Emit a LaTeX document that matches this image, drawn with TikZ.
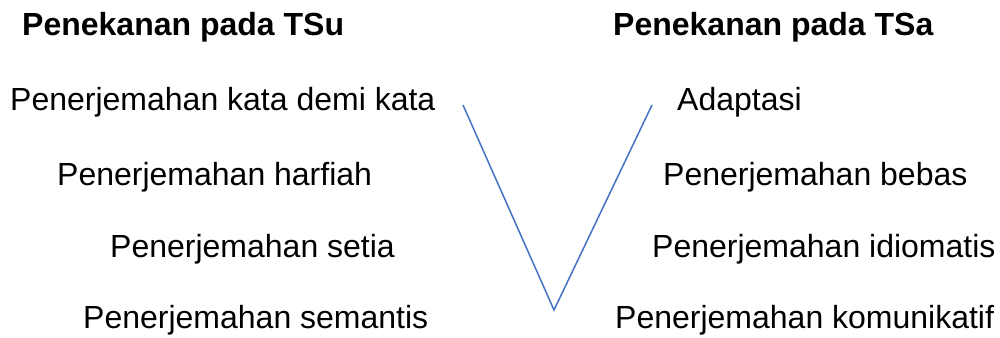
\documentclass[tikz,border=0pt]{standalone}
\usepackage{fontspec}
\setmainfont{Liberation Sans}
\definecolor{vblue}{HTML}{4472C4}
\begin{document}
\begin{tikzpicture}[x=1pt,y=-1pt,
  lbl/.style={anchor=base west,inner sep=0pt,font=\fontsize{32}{38}\selectfont},
  ttl/.style={lbl,font=\fontsize{32}{38}\selectfont\bfseries},
  vline/.style={draw=vblue,line width=1.5pt,line join=miter}]
\useasboundingbox[fill=white] (0,0) rectangle (1000,337);
\node[ttl] (tsu) at (22,36) {Penekanan pada TSu};
\node[ttl] (tsa) at (613,36) {Penekanan pada TSa};
\node[lbl] (l1) at (10,110) {Penerjemahan kata demi kata};
\node[lbl] (l2) at (57,185) {Penerjemahan harfiah};
\node[lbl] (l3) at (110,257) {Penerjemahan setia};
\node[lbl] (l4) at (83,328) {Penerjemahan semantis};
\node[lbl] (r1) at (677,110) {Adaptasi};
\node[lbl] (r2) at (663,185) {Penerjemahan bebas};
\node[lbl] (r3) at (652,257) {Penerjemahan idiomatis};
\node[lbl] (r4) at (615,328) {Penerjemahan komunikatif};
\coordinate (vl) at (463,105);
\coordinate (vb) at (554,310);
\coordinate (vr) at (652,105);
\draw[vline] (vl) -- (vb) -- (vr);
\end{tikzpicture}
\end{document}
